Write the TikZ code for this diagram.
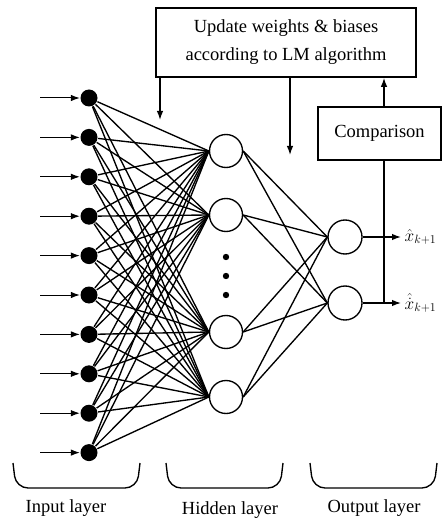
\documentclass[tikz,border=0pt]{standalone}
\usepackage{fontspec}
\setmainfont{Liberation Serif}
\usepackage{amsmath}
\usetikzlibrary{arrows.meta}
\newcommand{\arw}{-{Latex[length=9pt,width=6.5pt]}}

\begin{document}
\begin{tikzpicture}[x=1pt,y=-1pt,line width=1.35pt,
  font=\fontsize{18.5}{28}\selectfont,
  inp/.style={circle,fill=black,inner sep=0pt,minimum size=17pt},
  hid/.style={circle,draw,inner sep=0pt,minimum size=33pt},
  box/.style={draw,line width=1.6pt,inner sep=0pt,align=center}]
\useasboundingbox (0,0) rectangle (442,521);
%boxes
\node[box,minimum width=260pt,minimum height=69pt] (upd) at (286,42.5) {Update weights \& biases\\according to LM algorithm};
\node[box,minimum width=123pt,minimum height=53pt] (cmp) at (379.5,133.5) {Comparison};
%input layer
\foreach \i in {1,...,10} {
  \node[inp] (in\i) at (89,{98+(\i-1)*39.4}) {};
  \coordinate (s\i) at (40,{98+(\i-1)*39.4});
  \draw[\arw,line width=1pt] (s\i) -- (in\i);
}
%hidden layer
\foreach \y [count=\j] in {151,215,332,397} \node[hid] (h\j) at (226,\y) {};
\foreach \y in {257,276,295} \fill (226,\y) circle (3.2pt);
%output layer
\node[hid,minimum size=34pt] (o1) at (345,237) {};
\node[hid,minimum size=34pt] (o2) at (345,303) {};
%weights
\foreach \i in {1,...,10} \foreach \j in {1,...,4} \draw (in\i) -- (h\j.west);
\foreach \j in {1,...,4} \foreach \k in {1,2} \draw (h\j.east) -- (o\k.west);
%outputs
\coordinate (e1) at (401,237);
\coordinate (e2) at (401,303);
\draw[\arw] (o1) -- (e1);
\draw[\arw] (o2) -- (e2);
\node[right,inner sep=3pt] (y1) at (e1) {$\hat{x}_{k+1}$};
\node[right,inner sep=3pt] (y2) at (e2) {$\hat{\dot{x}}_{k+1}$};
%feedback
\coordinate (j2) at (384,303);
\draw (j2) -- (j2 |- cmp.south);
\draw[\arw] (j2 |- cmp.north) -- (j2 |- upd.south);
\coordinate (a1) at (160,120);
\coordinate (a2) at (290,155);
\draw[\arw] (a1 |- upd.south) -- (a1);
\draw[\arw] (a2 |- upd.south) -- (a2);
%braces
\foreach \a/\b in {13/140,166/283,310/437}
  \draw[rounded corners=12pt] (\a,463) -- (\a+3,488) -- (\b-3,488) -- (\b,463);
\node (lin) at (66,508) {Input layer};
\node (lhid) at (230,510) {Hidden layer};
\node (lout) at (374,508) {Output layer};
\end{tikzpicture}
\end{document}
